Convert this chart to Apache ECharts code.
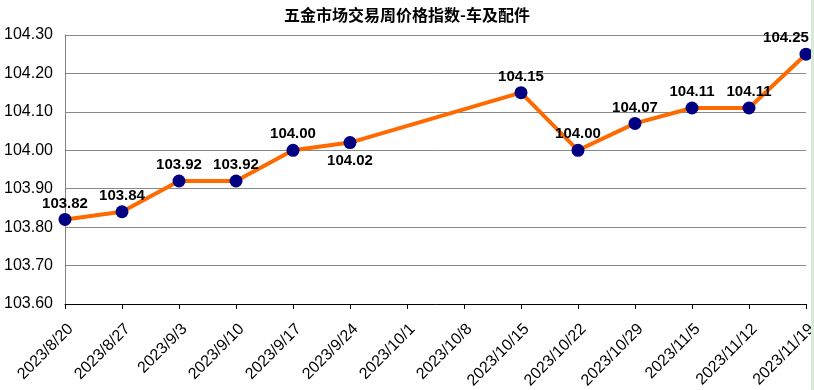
<!DOCTYPE html>
<html><head><meta charset="utf-8">
<script src="https://cdn.jsdelivr.net/npm/echarts@6/dist/echarts.min.js"></script>
<style>html,body{margin:0;padding:0;background:#fff}#c{width:814px;height:390px}</style>
</head><body><div id="c"></div>
<script>
var categories = ['2023/8/20','2023/8/27','2023/9/3','2023/9/10','2023/9/17','2023/9/24','2023/10/1','2023/10/8','2023/10/15','2023/10/22','2023/10/29','2023/11/5','2023/11/12','2023/11/19'];
var values = [103.82,103.84,103.92,103.92,104.00,104.02,null,null,104.15,104.00,104.07,104.11,104.11,104.25];
var labelBelow = ['2023/9/24'];
var yMin = 103.6, yMax = 104.3, yStep = 0.1;

var chart = echarts.init(document.getElementById('c'));
var seriesData = values.map(function(v, i){
  var d = {value: v};
  if (labelBelow.indexOf(categories[i]) >= 0) d.label = {position: 'bottom', distance: 4};
  if (i === values.length - 1) d.label = {offset: [-20, 0]};
  return d;
});
chart.setOption({
  animation: false,
  title: {text: '五金市场交易周价格指数-车及配件', left: 'center', top: 2,
    textStyle: {fontFamily: 'Noto Sans CJK SC', fontSize: 16, fontWeight: 'bold', color: '#000'}},
  grid: {left: 65, right: 8, top: 35, bottom: 86, containLabel: false, outerBoundsMode: 'none'},
  graphic: [{type: 'rect', shape: {x: 811, y: 0, width: 3, height: 390}, style: {fill: '#d6ebd6'}, silent: true, z: 100}],
  xAxis: {type: 'category', data: categories, boundaryGap: false,
    axisLine: {lineStyle: {color: '#000', width: 1}},
    axisTick: {show: true, length: 5, lineStyle: {color: '#000'}},
    axisLabel: {rotate: 45, fontFamily: 'Liberation Sans', fontSize: 16, color: '#000', margin: 17,
      align: 'right', verticalAlign: 'top', interval: 0, hideOverlap: false},
    splitLine: {show: false}},
  yAxis: {type: 'value', min: yMin, max: yMax, interval: yStep,
    axisLine: {show: true, lineStyle: {color: '#808080'}},
    axisTick: {show: false},
    axisLabel: {formatter: function(v){return v.toFixed(2);}, fontFamily: 'Liberation Sans', fontSize: 16, color: '#000', margin: 12},
    splitLine: {lineStyle: {color: '#888', width: 1}}},
  series: [{type: 'line', data: seriesData, connectNulls: true,
    lineStyle: {color: '#ff6a00', width: 4},
    symbol: 'circle', symbolSize: 13,
    itemStyle: {color: '#000080'},
    label: {show: true, position: 'top', distance: 2, formatter: function(p){return p.value.toFixed(2);},
      fontFamily: 'Liberation Sans', fontSize: 15, fontWeight: 'bold', color: '#000'}}]
});
</script></body></html>
